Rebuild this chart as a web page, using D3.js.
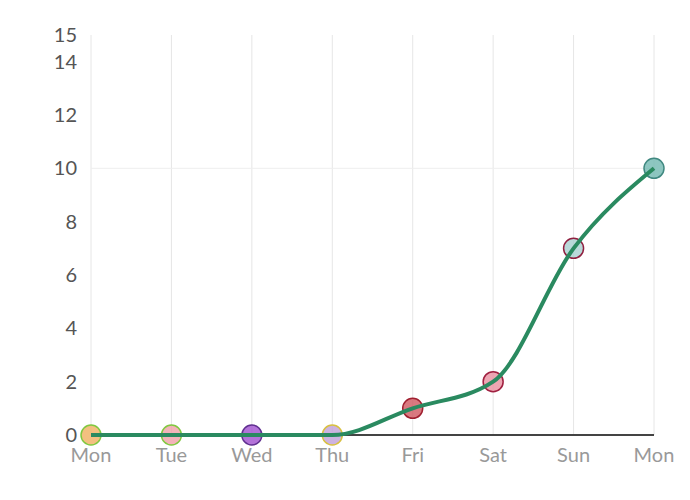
<!DOCTYPE html><html><head><meta charset="utf-8"><script src="https://cdn.jsdelivr.net/npm/d3@7"></script>
<style>body{margin:0;background:#fff}</style></head><body><svg id="c" width="690" height="500"></svg>
<script>
const categories=["Mon","Tue","Wed","Thu","Fri","Sat","Sun","Mon "];
const values=[0,0,0,0,1,2,7,10];
const yTicks=[0,2,4,6,8,10,12,14,15];
const fills=["#f0b060","#f0a0a8","#a050d0","#c0a0d8","#d05860","#e890a0","#a8d0d0","#70b8b0"];
const strokes=["#80c840","#80c840","#603090","#d8c040","#a02030","#a02040","#902040","#408880"];
const svg=d3.select("#c");
const x=d3.scalePoint().domain(categories).range([91,654]);
const y=d3.scaleLinear().domain([0,15]).range([435,35]);
const font="Lato, 'Open Sans', sans-serif";
svg.append("g").selectAll("line").data(categories).join("line")
 .attr("x1",d=>x(d)).attr("x2",d=>x(d)).attr("y1",35).attr("y2",435).attr("stroke","#e6e6e6");
svg.append("line").attr("x1",91).attr("x2",654).attr("y1",y(10)).attr("y2",y(10)).attr("stroke","#eee");
svg.append("g").selectAll("text").data(yTicks).join("text")
 .attr("x",77).attr("y",d=>y(d)+7).attr("text-anchor","end").attr("font-family",font).attr("font-size",20).attr("fill","#555").text(d=>d);
svg.append("g").selectAll("text").data(categories).join("text")
 .attr("x",d=>x(d)).attr("y",462).attr("text-anchor","middle").attr("font-family",font).attr("font-size",20).attr("fill","#999").text(d=>d.trim());
svg.append("line").attr("x1",91).attr("x2",654).attr("y1",435).attr("y2",435).attr("stroke","#444").attr("stroke-width",2);
svg.append("g").selectAll("circle").data(values).join("circle")
 .attr("cx",(d,i)=>x(categories[i])).attr("cy",d=>y(d)).attr("r",10)
 .attr("fill",(d,i)=>fills[i]).attr("fill-opacity",0.8).attr("stroke",(d,i)=>strokes[i]).attr("stroke-width",1.5);
svg.append("path").datum(values).attr("fill","none").attr("stroke","#2a8a60").attr("stroke-width",4)
 .attr("d",d3.line().x((d,i)=>x(categories[i])).y(d=>y(d)).curve(d3.curveMonotoneX));
</script></body></html>
